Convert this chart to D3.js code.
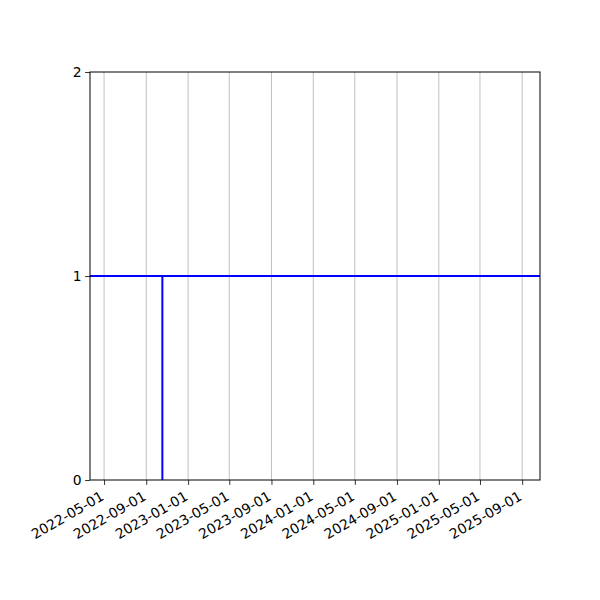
<!DOCTYPE html>
<html>
<head>
<meta charset="utf-8">
<script src="https://cdn.jsdelivr.net/npm/d3@7"></script>
<style>
  body { margin: 0; background: #fff; }
  svg text { font-family: "DejaVu Sans", sans-serif; }
</style>
</head>
<body>
<div id="chart"></div>
<script>
// data
const xRange = ["2022-03-21", "2025-10-23"];
const levelDates = ["2022-03-21", "2025-10-23"];
const levelValues = [1, 1];
const stepDates = ["2022-10-18", "2022-10-18"];
const stepValues = [0, 1];
const xTickDates = ["2022-05-01", "2022-09-01", "2023-01-01", "2023-05-01", "2023-09-01",
    "2024-01-01", "2024-05-01", "2024-09-01", "2025-01-01", "2025-05-01", "2025-09-01"];
const yTicks = [0, 1, 2];

const parse = d3.utcParse("%Y-%m-%d");
const fmt = d3.utcFormat("%Y-%m-%d");

const svgWidth = 600, svgHeight = 600;
const margin = { top: 72, right: 60, bottom: 120, left: 90 };
const width = svgWidth - margin.left - margin.right;
const height = svgHeight - margin.top - margin.bottom;

const svg = d3.select("#chart")
    .append("svg")
    .attr("width", svgWidth)
    .attr("height", svgHeight)
    .append("g")
    .attr("transform", `translate(${margin.left},${margin.top})`);

const xScale = d3.scaleUtc()
    .domain(xRange.map(parse))
    .range([0, width]);

const yScale = d3.scaleLinear()
    .domain([0, 2])
    .range([height, 0]);

// vertical grid
svg.selectAll(".grid")
    .data(xTickDates)
    .enter()
    .append("line")
    .attr("x1", d => xScale(parse(d)))
    .attr("x2", d => xScale(parse(d)))
    .attr("y1", 0)
    .attr("y2", height)
    .attr("stroke", "#b0b0b0")
    .attr("stroke-width", 0.8);

const line = d3.line()
    .x(d => xScale(d[0]))
    .y(d => yScale(d[1]));

svg.append("path")
    .datum(levelDates.map((d, i) => [parse(d), levelValues[i]]))
    .attr("d", line)
    .attr("fill", "none")
    .attr("stroke", "#0000ff")
    .attr("stroke-width", 2);

svg.append("path")
    .datum(stepDates.map((d, i) => [parse(d), stepValues[i]]))
    .attr("d", line)
    .attr("fill", "none")
    .attr("stroke", "#0000ff")
    .attr("stroke-width", 2);

// frame
svg.append("rect")
    .attr("width", width)
    .attr("height", height)
    .attr("fill", "none")
    .attr("stroke", "#000")
    .attr("stroke-width", 1);

// x axis
const xAxis = svg.append("g")
    .attr("transform", `translate(0,${height})`)
    .call(d3.axisBottom(xScale)
        .tickValues(xTickDates.map(parse))
        .tickFormat(fmt)
        .tickSize(4.9)
        .tickPadding(3.5));
xAxis.select(".domain").remove();
xAxis.selectAll("line").attr("stroke", "#000").attr("stroke-width", 0.8);
xAxis.selectAll("text")
    .attr("font-size", 13.9)
    .attr("fill", "#000")
    .attr("text-anchor", "end")
    .attr("x", 0)
    .attr("y", 0)
    .attr("dy", "0.76em")
    .attr("transform", "translate(-5,10) rotate(-30)");

// y axis
const yAxis = svg.append("g")
    .call(d3.axisLeft(yScale)
        .tickValues(yTicks)
        .tickFormat(d3.format("d"))
        .tickSize(4.9)
        .tickPadding(3.5));
yAxis.select(".domain").remove();
yAxis.selectAll("line").attr("stroke", "#000").attr("stroke-width", 0.8);
yAxis.selectAll("text").attr("font-size", 13.9).attr("fill", "#000");
</script>
</body>
</html>
